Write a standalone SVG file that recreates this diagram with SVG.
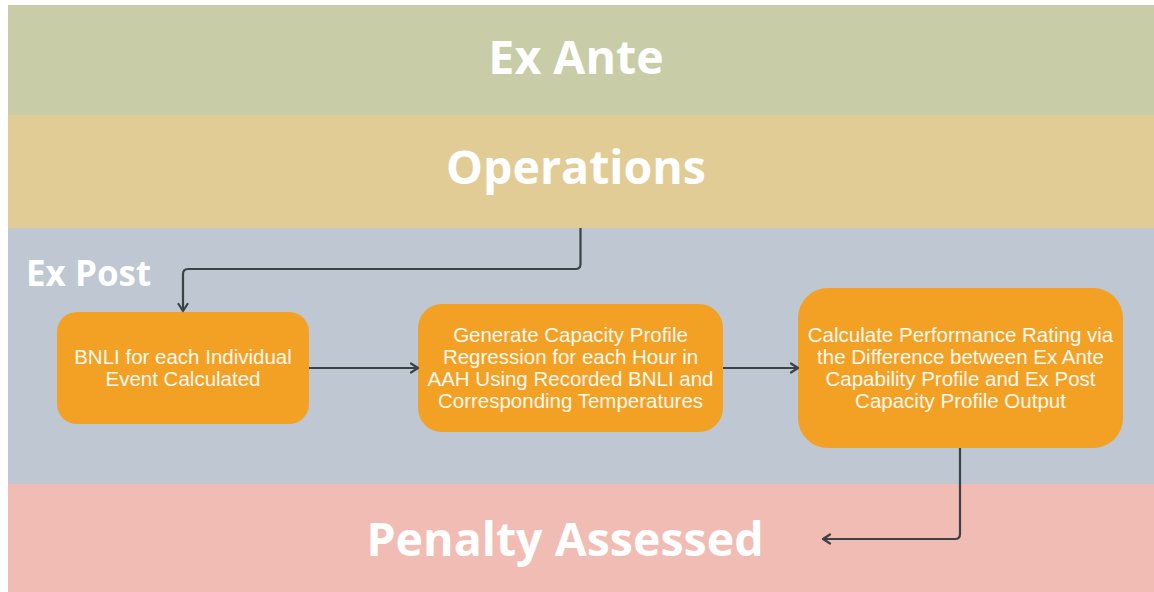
<svg xmlns="http://www.w3.org/2000/svg" width="1154" height="592" viewBox="0 0 1154 592">
<style>
.band-title{font-family:"Open Sans","DejaVu Sans",sans-serif;font-weight:bold;fill:#ffffff;}
.big{font-size:46.5px;text-anchor:middle;}
.lbl{font-family:"Liberation Sans",Arial,sans-serif;font-size:20.5px;fill:#fff9f0;text-anchor:middle;}
.box{fill:#f2a124;}
.conn{fill:none;stroke:#3d4247;stroke-width:2.2;stroke-linejoin:round;}
</style>
<defs>
<marker id="arr" viewBox="0 0 12 12" refX="10" refY="6" markerWidth="12" markerHeight="12" markerUnits="userSpaceOnUse" orient="auto">
<path d="M3,1.5 L10,6 L3,10.5" fill="none" stroke="#3d4247" stroke-width="2.2" stroke-linecap="round" stroke-linejoin="round"/>
</marker>
</defs>
<rect width="1154" height="592" fill="#ffffff"/>
<g id="band-exante">
<rect x="8" y="5" width="1146" height="110" fill="#c8cda8"/>
<text class="band-title big" x="576" y="74">Ex Ante</text>
</g>
<g id="band-operations">
<rect x="8" y="115" width="1146" height="113" fill="#e2cc96"/>
<text class="band-title big" x="576" y="184">Operations</text>
</g>
<g id="band-expost">
<rect x="8" y="228" width="1146" height="256" fill="#bec7d2"/>
<text class="band-title" x="26" y="286" font-size="35">Ex Post</text>
</g>
<g id="band-penalty">
<rect x="8" y="484" width="1146" height="108" fill="#f1bcb3"/>
<text class="band-title big" x="565" y="556">Penalty Assessed</text>
</g>
<g id="node-bnli">
<rect class="box" x="57" y="312" width="252" height="112" rx="20"/>
<text class="lbl" x="183" y="364">BNLI for each Individual</text>
<text class="lbl" x="183" y="386">Event Calculated</text>
</g>
<g id="node-regression">
<rect class="box" x="418" y="304" width="305" height="128" rx="24"/>
<text class="lbl" x="570.5" y="342">Generate Capacity Profile</text>
<text class="lbl" x="570.5" y="364">Regression for each Hour in</text>
<text class="lbl" x="570.5" y="386">AAH Using Recorded BNLI and</text>
<text class="lbl" x="570.5" y="408">Corresponding Temperatures</text>
</g>
<g id="node-rating">
<rect class="box" x="798" y="288" width="325" height="160" rx="30"/>
<text class="lbl" x="960.5" y="342">Calculate Performance Rating via</text>
<text class="lbl" x="960.5" y="364">the Difference between Ex Ante</text>
<text class="lbl" x="960.5" y="386">Capability Profile and Ex Post</text>
<text class="lbl" x="960.5" y="408">Capacity Profile Output</text>
</g>
<g id="connectors">
<path class="conn" d="M580.5,228 V264 Q580.5,269 575.5,269 H188 Q183,269 183,274 V311" marker-end="url(#arr)"/>
<path class="conn" d="M309,368 H418" marker-end="url(#arr)"/>
<path class="conn" d="M723,368 H798" marker-end="url(#arr)"/>
<path class="conn" d="M960,448 V534 Q960,539 955,539 H823" marker-end="url(#arr)"/>
</g>
</svg>
